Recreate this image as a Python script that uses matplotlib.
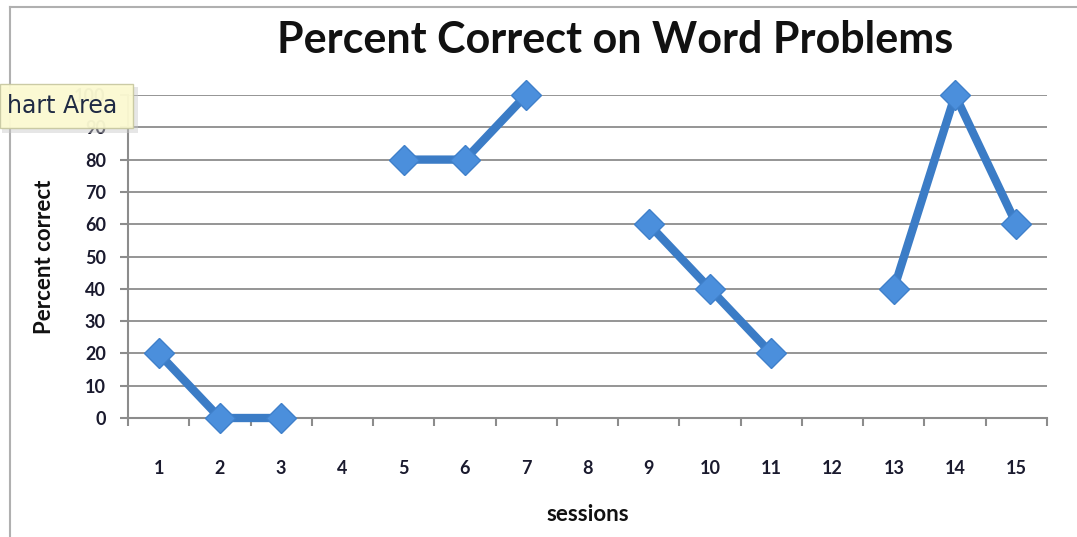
import matplotlib
matplotlib.use("Agg")
import matplotlib.pyplot as plt
import numpy as np
from matplotlib.patches import Rectangle
from matplotlib.lines import Line2D

sessions = ["1", "2", "3", "4", "5", "6", "7", "8", "9", "10", "11", "12", "13", "14", "15"]
percent = [20, 0, 0, None, 80, 80, 100, None, 60, 40, 20, None, 40, 100, 60]
yticks = [0, 10, 20, 30, 40, 50, 60, 70, 80, 90, 100]

plt.rcParams['font.family'] = ['Lato', 'DejaVu Sans']

fig = plt.figure(figsize=(10.77, 5.37), dpi=100)
ax = fig.add_axes([128/1077, 1-418/537, (1047-128)/1077, (418-95)/537])

x = np.arange(len(sessions))
y = np.array([np.nan if v is None else v for v in percent], dtype=float)
line_color = '#3b7cc6'
ax.plot(x, y, color=line_color, lw=6, marker='D', ms=15, mfc='#4b8fdc', mec='#3f80ca', mew=1,
        zorder=3, solid_capstyle='round', clip_on=False)

ax.set_xlim(-0.5, len(sessions)-0.5)
ax.set_ylim(0, 100)
ax.set_yticks(yticks)
ax.set_yticklabels([str(t) for t in yticks], fontsize=13, fontweight='bold', color='#1a1a2e')
ax.set_xticks(x)
ax.set_xticklabels(sessions, fontsize=13, fontweight='bold', color='#1a1a2e')
ax.set_xticks(np.arange(-0.5, len(sessions), 1), minor=True)
ax.tick_params(axis='x', which='major', length=0, pad=30)
ax.tick_params(axis='x', which='minor', length=6, color='#8c8c8c', width=1.5, direction='out')
ax.tick_params(axis='y', length=6, color='#8c8c8c', width=1.5, pad=10)
ax.grid(axis='y', color='#8c8c8c', lw=1.3, zorder=0)
ax.set_axisbelow(True)
for s in ['top', 'right']:
    ax.spines[s].set_visible(False)
for s in ['left', 'bottom']:
    ax.spines[s].set_color('#8c8c8c')
    ax.spines[s].set_linewidth(1.5)

ax.set_xlabel('sessions', fontsize=16, fontweight='bold', labelpad=20, color='#111111')
ax.set_ylabel('Percent correct', fontsize=16, fontweight='bold', labelpad=14, color='#111111')

fig.text(615/1077, 1-40/537, 'Percent Correct on Word Problems', fontsize=31, fontweight='bold',
         ha='center', va='center', color='#111111')

# outer chart frame
fig.add_artist(Line2D([10/1077, 10/1077], [0, 1-7/537], transform=fig.transFigure, color='#b0b0b0', lw=1.5))
fig.add_artist(Line2D([10/1077, 1], [1-7/537, 1-7/537], transform=fig.transFigure, color='#b0b0b0', lw=1.5))

# tooltip
fig.add_artist(Rectangle((2/1077, 1-133/537), 136/1077, 46/537, transform=fig.transFigure,
                         facecolor='#c8c8c8', edgecolor='none', alpha=0.45, zorder=9))
fig.add_artist(Rectangle((0, 1-128/537), 133/1077, 44/537, transform=fig.transFigure,
                         facecolor='#fdfbd2', edgecolor='#c8c8a0', lw=1, alpha=0.93, zorder=10))
fig.text(7/1077, 1-106/537, 'hart Area', fontsize=17, ha='left', va='center', color='#1f2a44', zorder=11,
         family=['DejaVu Sans'])

fig.savefig('out.png', dpi=100)
